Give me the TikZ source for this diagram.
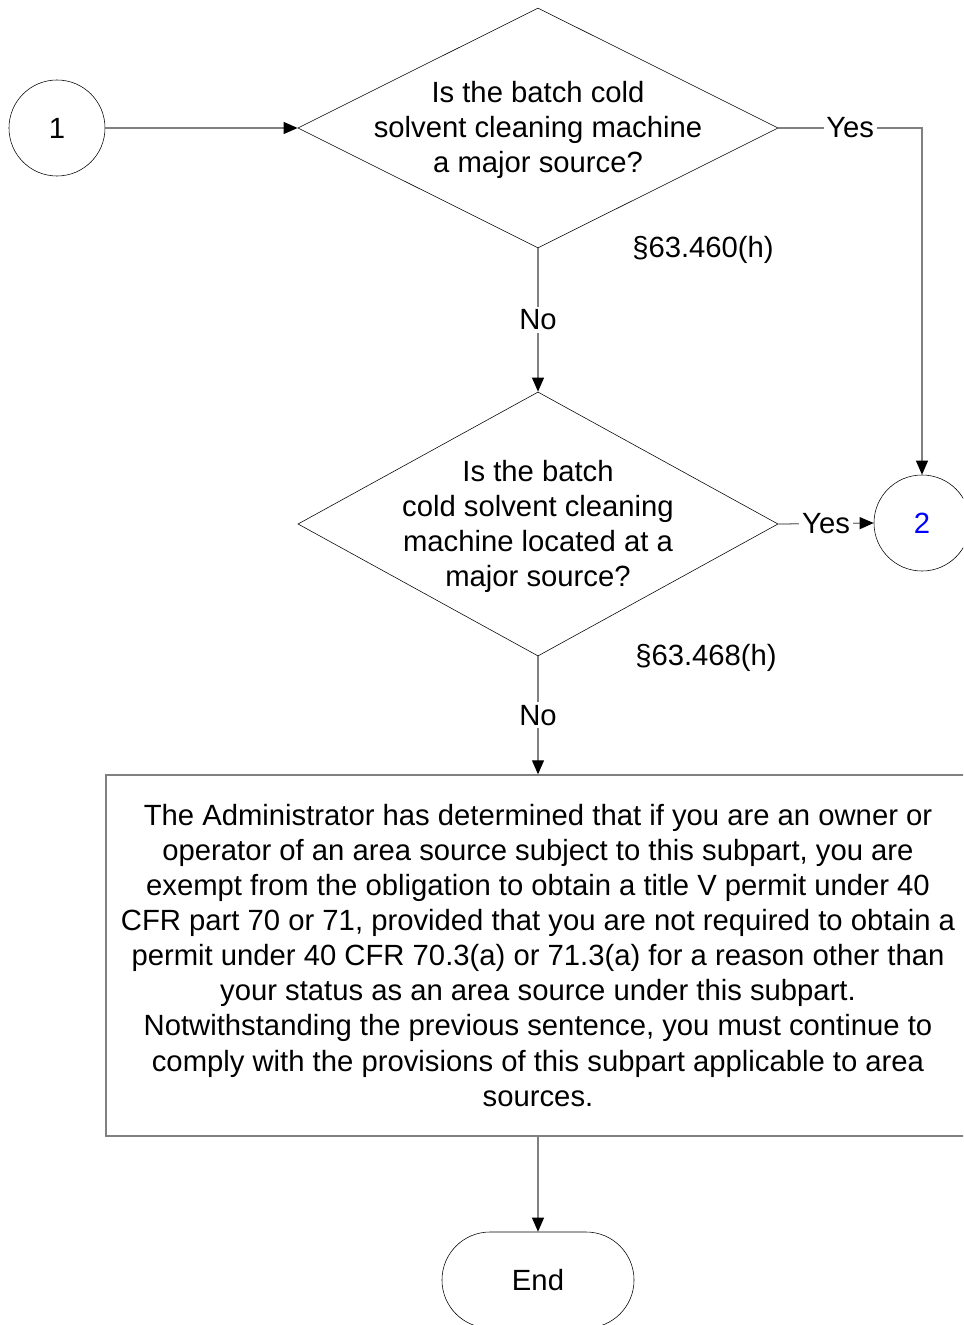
\documentclass[tikz,border=0pt]{standalone}
\usepackage{fontspec}
\setmainfont{Liberation Sans}
\usetikzlibrary{arrows,arrows.meta,shapes,positioning}
\tikzstyle{conn}=[draw=gray,line width=0.9pt,-{Triangle[black,length=10pt,width=8.5pt]}]
\tikzstyle{Aconn}=[circle,draw,thin,minimum size=2.4cm,inner sep=0]
\tikzstyle{Aq}=[diamond,draw,thin,inner sep=0,minimum width=12cm]
\tikzstyle{Abox}=[draw=gray,line width=0.9pt,minimum width=21.6cm,minimum height=9.025cm,align=center]
\tikzstyle{Aend}=[draw,thin,rounded corners=1.2cm,minimum width=4.8cm,minimum height=2.4cm]
\tikzstyle{lbl}=[fill=white,inner sep=2pt]
\tikzstyle{ref}=[inner sep=0]

\begin{document}
\begin{tikzpicture}[x=0.025cm,y=-0.025cm,
    every node/.style={font=\fontsize{20.8pt}{24.9pt}\selectfont},
    every label/.style={align=center,inner sep=0}]
  \clip (0,0) rectangle (963,1325);
  \useasboundingbox (0,0) rectangle (963,1325);
  \node[Aconn] (s1) at (57,128) {1};
  \node[Aq,minimum height=6cm,
        label={[yshift=-1.5pt]center:Is the batch cold\\solvent cleaning machine\\a major source?}]
      (q1) at (538,128) {};
  \node[ref] (r1) at (703,250) {§63.460(h)};
  \node[Aq,minimum height=6.6cm,
        label={[yshift=-1.5pt]center:Is the batch\\cold solvent cleaning\\machine located at a\\major source?}]
      (q2) at (538,524) {};
  \node[ref] (r2) at (706,658) {§63.468(h)};
  \node[Aconn,text=blue] (s2) at (922,523) {2};
  \node[Abox] (ex) at (538,955.5)
      {The Administrator has determined that if you are an owner or\\
       operator of an area source subject to this subpart, you are\\
       exempt from the obligation to obtain a title V permit under 40\\
       CFR part 70 or 71, provided that you are not required to obtain a\\
       permit under 40 CFR 70.3(a) or 71.3(a) for a reason other than\\
       your status as an area source under this subpart.\\
       Notwithstanding the previous sentence, you must continue to\\
       comply with the provisions of this subpart applicable to area\\
       sources.};
  \node[Aend] (end) at (538,1280) {End};
  \draw[conn] (s1) -- (q1.west);
  \draw[conn] (q1.south) -- node[lbl] {No} (q2.north);
  \draw[conn] (q1.east) -| node[lbl,pos=0.25] {Yes} (s2.north);
  \draw[conn] (q2.east) -- node[lbl] {Yes} (s2.west);
  \draw[conn] (q2.south) -- node[lbl] {No} (ex.north);
  \draw[conn] (ex.south) -- (end.north);
\end{tikzpicture}
\end{document}
